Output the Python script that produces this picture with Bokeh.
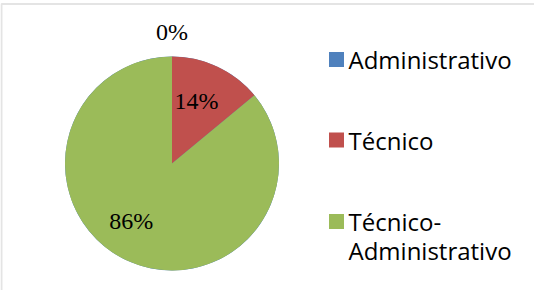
import numpy as np
from bokeh.plotting import figure
from bokeh.models import Range1d, BoxAnnotation, ColumnDataSource
from bokeh.core.properties import value
from bokeh.embed import file_html
from bokeh.resources import INLINE

# ---- data ----
categories = ["Administrativo", "Técnico", "Técnico-Administrativo"]
percent = [0, 14, 86]
colors = ["#4F81BD", "#C0504D", "#9BBB59"]

# ---- layout constants (page-like pixel coordinates, y upward) ----
W, H = 534, 290
cx, cy, R = 179.5, 135.0, 107.0
label_r = [1.23, 0.63, 0.66]          # radial factor for each label
label_nudge_deg = [0.0, 4.0, -10.0]   # angular nudge for each label
leg_sq_x = 344.0
leg_text_x = 356.0
leg_rows = [239.0, 158.5, 77.0]       # y of first line of each legend entry
leg_line = 28.5

p = figure(width=W, height=H, x_range=Range1d(8, 8 + W), y_range=Range1d(8, 8 + H),
           output_backend="svg", toolbar_location=None,
           x_axis_location=None, y_axis_location=None, min_border=0)
p.grid.visible = False
p.outline_line_color = None
p.background_fill_color = "white"
p.border_fill_color = "white"

# chart border (cut off at right/bottom as in the reference)
p.add_layout(BoxAnnotation(left=9, right=700, top=294.5, bottom=-200,
                           fill_alpha=0, line_color="#A6A6A6", line_width=2))

# ---- pie ----
frac = np.array(percent, dtype=float) / sum(percent)
ends = np.pi / 2 - 2 * np.pi * np.cumsum(frac)
starts = np.concatenate([[np.pi / 2], ends[:-1]])
src = ColumnDataSource(dict(start=starts, end=ends, color=colors))
p.wedge(x=cx, y=cy, radius=R, start_angle="start", end_angle="end",
        direction="clock", fill_color="color", line_color=None, source=src)

# ---- percentage labels ----
mids = (starts + ends) / 2 + np.radians(label_nudge_deg)
lx = cx + np.array(label_r) * R * np.cos(mids)
ly = cy + np.array(label_r) * R * np.sin(mids)
ltxt = [f"{v}%" for v in percent]
p.text(x=lx, y=ly, text=ltxt, text_align="center", text_baseline="middle",
       text_font=value("Liberation Serif"), text_font_size="24px", text_color="#000000")

# ---- legend ----
p.scatter(x=[leg_sq_x] * 3, y=leg_rows, marker="square", size=15,
          fill_color=colors, line_color=None)
tx, ty, tt = [], [], []
for cat, y0 in zip(categories, leg_rows):
    lines = cat.replace("-", "-\n").split("\n")
    for i, ln in enumerate(lines):
        tx.append(leg_text_x)
        ty.append(y0 - i * leg_line)
        tt.append(ln)
p.text(x=tx, y=ty, text=tt, text_align="left", text_baseline="middle",
       text_font=value("Open Sans"), text_font_size="24px", text_color="#000000")

open("out.html", "w").write(file_html(p, INLINE))
